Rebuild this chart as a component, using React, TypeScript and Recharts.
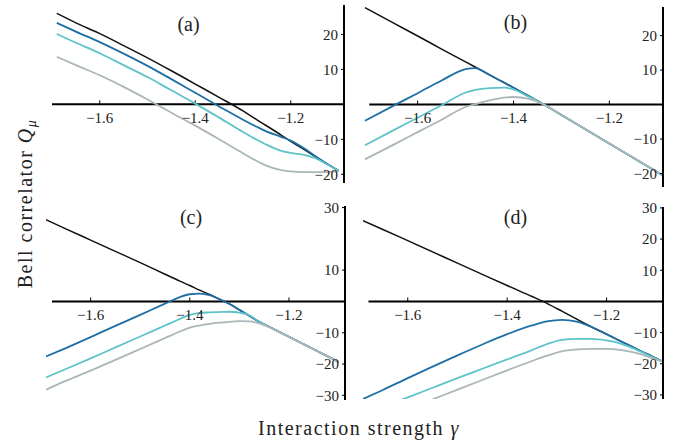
import React from 'react'
import { LineChart, Line, XAxis, YAxis, ReferenceLine, ReferenceDot } from 'recharts'

// Bell correlator vs interaction strength, one set of curves per panel

// (a)
const gammaA = [-1.69, -1.65, -1.6, -1.55, -1.5, -1.45, -1.4, -1.35, -1.3, -1.27, -1.25, -1.22, -1.2, -1.17, -1.15, -1.13, -1.1]
const blackA = [26.0, 23.3, 20.2, 16.8, 13.3, 9.6, 5.8, 2.0, -1.9, -4.5, -6.2, -8.8, -10.6, -13.1, -14.8, -16.5, -19.0]
const blueA = [23.3, 20.8, 17.8, 14.5, 11.0, 7.2, 3.3, -0.6, -4.4, -6.5, -7.8, -9.3, -10.4, -12.8, -14.7, -16.5, -19.0]
const tealA = [20.1, 17.6, 14.6, 11.2, 7.8, 4.0, 0.2, -3.8, -7.9, -10.2, -11.6, -13.3, -13.9, -14.5, -15.3, -16.7, -19.0]
const grayA = [13.6, 11.2, 8.3, 5.0, 1.4, -2.4, -6.1, -10.0, -14.0, -16.3, -17.6, -18.8, -19.2, -19.4, -19.4, -19.4, -19.2]

// (b)
const gammaB = [-1.71, -1.65, -1.6, -1.55, -1.5, -1.48, -1.45, -1.42, -1.4, -1.37, -1.34, -1.3, -1.2, -1.09]
const blackB = [28.1, 23.6, 19.9, 16.1, 12.4, 10.9, 8.6, 6.4, 4.9, 2.6, 0.3, -3.0, -11.3, -20.4]
const blueB = [-4.7, -0.3, 3.3, 7.0, 10.3, 10.6, 8.6, 6.4, 4.9, 2.6, 0.3, -3.0, -11.3, -20.4]
const tealB = [-11.8, -7.4, -3.8, -0.2, 3.5, 4.3, 4.8, 4.9, 4.4, 2.4, 0.3, -3.0, -11.3, -20.4]
const grayB = [-15.9, -11.6, -8.0, -4.4, -0.7, 0.1, 1.2, 2.0, 2.2, 1.7, 0.2, -3.0, -11.3, -20.4]

// (c)
const gammaC = [-1.69, -1.65, -1.6, -1.55, -1.5, -1.45, -1.42, -1.4, -1.38, -1.36, -1.34, -1.32, -1.3, -1.28, -1.26, -1.24, -1.2, -1.15, -1.1]
const blackC = [26.1, 23.2, 19.6, 16.0, 12.4, 8.7, 6.5, 5.1, 3.6, 2.2, 0.7, -0.8, -2.7, -4.6, -6.5, -8.1, -11.3, -15.3, -19.3]
const blueC = [-17.6, -14.9, -11.4, -7.8, -4.3, -0.7, 1.4, 2.3, 2.5, 2.0, 0.7, -0.8, -2.7, -4.6, -6.5, -8.1, -11.3, -15.3, -19.3]
const tealC = [-24.3, -21.6, -18.2, -14.7, -11.2, -7.7, -5.6, -4.3, -3.7, -3.5, -3.4, -3.3, -3.6, -4.4, -6.5, -8.1, -11.3, -15.3, -19.3]
const grayC = [-28.2, -25.4, -22.1, -18.7, -15.2, -11.7, -9.6, -8.4, -7.7, -7.2, -6.8, -6.5, -6.3, -6.4, -7.0, -8.2, -11.3, -15.3, -19.3]

// (d)
const gammaD = [-1.69, -1.65, -1.6, -1.55, -1.5, -1.45, -1.4, -1.35, -1.32, -1.29, -1.26, -1.23, -1.2, -1.17, -1.15, -1.13, -1.11, -1.09]
const blackD = [25.9, 23.1, 19.5, 15.9, 12.3, 8.7, 5.1, 1.6, -0.6, -3.1, -5.7, -8.2, -10.5, -12.9, -14.4, -16.0, -17.5, -19.1]
const blueD = [-31.3, -28.4, -24.6, -20.9, -17.3, -13.8, -10.5, -7.7, -6.4, -5.9, -6.5, -8.2, -10.5, -12.9, -14.4, -16.0, -17.5, -19.1]
const tealD = [-36.2, -33.8, -30.8, -27.7, -24.6, -21.6, -18.6, -15.6, -13.7, -12.3, -12.0, -12.0, -12.5, -13.6, -14.8, -16.2, -17.7, -19.1]
const grayD = [-40.0, -37.6, -34.5, -31.4, -28.3, -25.2, -22.1, -19.1, -17.4, -16.0, -15.4, -15.2, -15.2, -15.6, -16.2, -17.0, -18.1, -19.1]

const xTicks = [-1.6, -1.4, -1.2]
const yTicksTop = [20, 10, -10, -20]
const yTicksC = [30, 10, -10, -20, -30]
const yTicksD = [30, 20, 10, -10, -20, -30]

const serif = '"Liberation Serif", "Times New Roman", serif'
const colors = { black: '#111111', blue: '#1d6fa5', teal: '#5ec3c9', gray: '#aab6b8' }

const fmt = (v: number) => (v < 0 ? '\u2212' + Math.abs(v) : String(v))

const toRows = (g: number[], k: number[], b: number[], t: number[], s: number[]) =>
  g.map((x, i) => ({ g: x, black: k[i], blue: b[i], teal: t[i], gray: s[i] }))

type Panel = {
  key: string
  left: number
  top: number
  width: number
  height: number
  xDomain: [number, number]
  yDomain: [number, number]
  yTicks: number[]
  axisStart: number
  rows: ReturnType<typeof toRows>
}

const panels: Panel[] = [
  { key: 'a', left: 52, top: 5, width: 292, height: 178, xDomain: [-1.7, -1.0885], yDomain: [-22.5, 28.4], yTicks: yTicksTop, axisStart: -1.7, rows: toRows(gammaA, blackA, blueA, tealA, grayA) },
  { key: 'b', left: 364, top: 7, width: 299, height: 180, xDomain: [-1.712, -1.088], yDomain: [-23.9, 28.3], yTicks: yTicksTop, axisStart: -1.701, rows: toRows(gammaB, blackB, blueB, tealB, grayB) },
  { key: 'c', left: 46, top: 206, width: 299, height: 194, xDomain: [-1.69, -1.087], yDomain: [-31.5, 30.5], yTicks: yTicksC, axisStart: -1.678, rows: toRows(gammaC, blackC, blueC, tealC, grayC) },
  { key: 'd', left: 363, top: 207, width: 300, height: 192, xDomain: [-1.69, -1.0865], yDomain: [-31.3, 30.3], yTicks: yTicksD, axisStart: -1.679, rows: toRows(gammaD, blackD, blueD, tealD, grayD) },
]

const M = 10

function PanelChart({ p }: { p: Panel }) {
  const pxPerUnit = p.height / (p.yDomain[1] - p.yDomain[0])
  const tickLen = 4 / pxPerUnit
  return (
    <div style={{ position: 'absolute', left: p.left - M, top: p.top - M }}>
      <LineChart width={p.width + 2 * M} height={p.height + 2 * M} data={p.rows} margin={{ top: M, right: M, bottom: M, left: M }}>
        <XAxis type="number" dataKey="g" domain={p.xDomain} hide allowDataOverflow />
        <YAxis
          orientation="right"
          mirror
          type="number"
          domain={p.yDomain}
          allowDataOverflow
          ticks={p.yTicks}
          interval={0}
          tickFormatter={fmt}
          tickSize={3}
          tickMargin={3}
          axisLine={{ stroke: '#000', strokeWidth: 2 }}
          tickLine={{ stroke: '#000' }}
          tick={{ fill: '#222', fontSize: 15, fontFamily: serif }}
        />
        <ReferenceLine
          segment={[{ x: p.axisStart, y: 0 }, { x: p.xDomain[1], y: 0 }]}
          stroke="#000"
          strokeWidth={2}
          ifOverflow="visible"
        />
        {xTicks.map((t) => (
          <ReferenceLine key={'t' + t} segment={[{ x: t, y: 0 }, { x: t, y: tickLen }]} stroke="#000" ifOverflow="visible" />
        ))}
        {xTicks.map((t) => (
          <ReferenceDot
            key={'l' + t}
            x={t}
            y={0}
            r={0}
            fill="none"
            stroke="none"
            ifOverflow="visible"
            label={{ value: fmt(t), position: 'bottom', offset: 8, fill: '#222', fontSize: 15, fontFamily: serif }}
          />
        ))}
        <Line type="monotone" dataKey="black" stroke={colors.black} strokeWidth={1.5} dot={false} isAnimationActive={false} />
        <Line type="monotone" dataKey="blue" stroke={colors.blue} strokeWidth={1.8} dot={false} isAnimationActive={false} />
        <Line type="monotone" dataKey="teal" stroke={colors.teal} strokeWidth={1.8} dot={false} isAnimationActive={false} />
        <Line type="monotone" dataKey="gray" stroke={colors.gray} strokeWidth={1.8} dot={false} isAnimationActive={false} />
      </LineChart>
    </div>
  )
}

export default function App() {
  return (
    <div style={{ position: 'fixed', left: 0, top: 0, width: 690, height: 446, background: '#fff' }}>
      {panels.map((p) => (
        <PanelChart key={p.key} p={p} />
      ))}
      <svg width={690} height={446} style={{ position: 'absolute', left: 0, top: 0, pointerEvents: 'none' }}>
        <g fontFamily={serif} fill="#222" fontSize={20} textAnchor="middle">
          <text x={188.5} y={30.5}>(a)</text>
          <text x={515.5} y={28.5}>(b)</text>
          <text x={191} y={223.5}>(c)</text>
          <text x={515.5} y={223.5}>(d)</text>
          <text x={359} y={435} letterSpacing={1.5}>
            Interaction strength <tspan fontStyle="italic">γ</tspan>
          </text>
          <text x={32} y={203.5} letterSpacing={1.5} transform="rotate(-90 32 203.5)">
            Bell correlator <tspan fontStyle="italic">Q</tspan>
            <tspan fontStyle="italic" fontSize={14} dy={4}>μ</tspan>
          </text>
        </g>
      </svg>
    </div>
  )
}
